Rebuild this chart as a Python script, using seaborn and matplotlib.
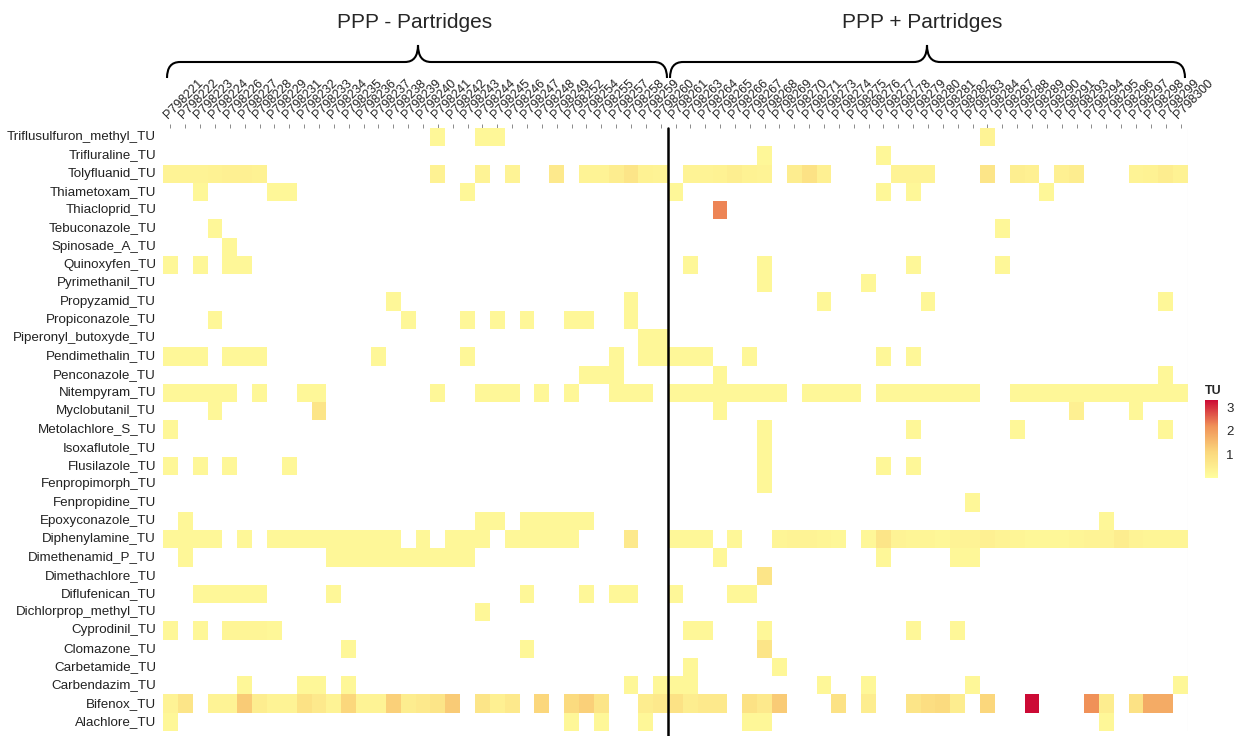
import numpy as np
import pandas as pd
import matplotlib
matplotlib.use('Agg')
import matplotlib.pyplot as plt
import seaborn as sns
from matplotlib.colors import LinearSegmentedColormap
from matplotlib.path import Path
from matplotlib.patches import PathPatch

sns.set_style('white')
plt.rcParams['font.family'] = ['Liberation Sans', 'DejaVu Sans']

# sample ids (P798xxx), split by treatment group
samples_minus = [221, 222, 223, 224, 226, 227, 228, 229, 231, 232, 233, 234, 235, 236, 237,
                 238, 239, 240, 241, 242, 243, 244, 245, 246, 247, 248, 249, 252, 254, 255,
                 257, 258, 259, 260]
samples_plus = [261, 263, 264, 265, 266, 267, 268, 269, 270, 271, 273, 274, 275, 276, 277,
                278, 279, 280, 281, 282, 283, 284, 287, 288, 289, 290, 291, 293, 294, 295,
                296, 297, 298, 299, 300]

compounds = ['Triflusulfuron_methyl_TU', 'Trifluraline_TU', 'Tolyfluanid_TU', 'Thiametoxam_TU',
             'Thiacloprid_TU', 'Tebuconazole_TU', 'Spinosade_A_TU', 'Quinoxyfen_TU',
             'Pyrimethanil_TU', 'Propyzamid_TU', 'Propiconazole_TU', 'Piperonyl_butoxyde_TU',
             'Pendimethalin_TU', 'Penconazole_TU', 'Nitempyram_TU', 'Myclobutanil_TU',
             'Metolachlore_S_TU', 'Isoxaflutole_TU', 'Flusilazole_TU', 'Fenpropimorph_TU',
             'Fenpropidine_TU', 'Epoxyconazole_TU', 'Diphenylamine_TU', 'Dimethenamid_P_TU',
             'Dimethachlore_TU', 'Diflufenican_TU', 'Dichlorprop_methyl_TU', 'Cyprodinil_TU',
             'Clomazone_TU', 'Carbetamide_TU', 'Carbendazim_TU', 'Bifenox_TU', 'Alachlore_TU']

# toxic units detected (sample -> TU); blank cells are non-detects
tu_values = {
    'Triflusulfuron_methyl_TU': {241: .2, 244: .2, 245: .2, 284: .3},
    'Trifluraline_TU': {268: .2, 277: .2},
    'Tolyfluanid_TU': {221: .3, 222: .3, 223: .3, 224: .35, 226: .4, 227: .4, 228: .35, 241: .35,
                       244: .3, 246: .3, 249: .6, 254: .3, 255: .3, 257: .5, 258: .7, 259: .35,
                       260: .3, 263: .3, 264: .3, 265: .35, 266: .45, 267: .35, 268: .3,
                       270: .5, 271: .8, 273: .4, 278: .3, 279: .3, 280: .3, 284: .7, 288: .45,
                       289: .4, 291: .4, 293: .5, 297: .3, 298: .35, 299: .5, 300: .35},
    'Thiametoxam_TU': {223: .2, 229: .2, 231: .2, 243: .2, 261: .2, 277: .2, 279: .2, 290: .2},
    'Thiacloprid_TU': {265: 2.3},
    'Tebuconazole_TU': {224: .2, 287: .2},
    'Spinosade_A_TU': {226: .2},
    'Quinoxyfen_TU': {221: .2, 223: .2, 226: .2, 227: .2, 263: .2, 268: .2, 279: .2, 287: .2},
    'Pyrimethanil_TU': {268: .2, 276: .2},
    'Propyzamid_TU': {238: .2, 258: .2, 273: .2, 280: .2, 299: .2},
    'Propiconazole_TU': {224: .2, 239: .2, 243: .2, 245: .2, 247: .2, 252: .2, 254: .2, 258: .2},
    'Piperonyl_butoxyde_TU': {259: .2, 260: .2},
    'Pendimethalin_TU': {221: .2, 222: .2, 223: .2, 226: .2, 227: .2, 228: .2, 237: .2, 243: .2,
                         257: .2, 259: .2, 260: .2, 261: .2, 263: .2, 264: .2, 267: .2,
                         277: .2, 279: .2},
    'Penconazole_TU': {254: .2, 255: .2, 257: .2, 265: .2, 299: .2},
    'Nitempyram_TU': {221: .2, 222: .2, 223: .2, 224: .2, 226: .2, 228: .2, 232: .2, 233: .2,
                      241: .2, 244: .2, 245: .2, 246: .2, 248: .2, 252: .2, 257: .2, 258: .2,
                      259: .2, 261: .2, 263: .2, 264: .2, 265: .2, 266: .2, 267: .2, 268: .2,
                      269: .2, 271: .2, 273: .2, 274: .2, 275: .2, 277: .2, 278: .2, 279: .2,
                      280: .2, 281: .2, 282: .2, 283: .2, 288: .2, 289: .2, 290: .2, 291: .2,
                      293: .2, 294: .2, 295: .2, 296: .2, 297: .2, 298: .2, 299: .2, 300: .2},
    'Myclobutanil_TU': {224: .2, 233: .7, 265: .2, 293: .4, 297: .2},
    'Metolachlore_S_TU': {221: .2, 268: .2, 279: .2, 288: .2, 299: .2},
    'Isoxaflutole_TU': {268: .2},
    'Flusilazole_TU': {221: .2, 223: .2, 226: .2, 231: .2, 268: .2, 277: .2, 279: .2},
    'Fenpropimorph_TU': {268: .2},
    'Fenpropidine_TU': {283: .2},
    'Epoxyconazole_TU': {222: .2, 244: .2, 245: .2, 247: .2, 248: .2, 249: .2, 252: .2, 254: .2,
                         295: .2},
    'Diphenylamine_TU': {221: .2, 222: .2, 223: .2, 224: .2, 227: .2, 229: .2, 231: .2, 232: .2,
                         233: .2, 234: .2, 235: .2, 236: .2, 237: .2, 238: .2, 240: .2, 242: .2,
                         243: .2, 244: .2, 246: .2, 247: .2, 248: .2, 249: .2, 252: .2, 258: .6,
                         261: .2, 263: .2, 264: .2, 266: .2, 269: .25, 270: .3, 271: .3, 273: .25,
                         274: .2, 276: .2, 277: .7, 278: .3, 279: .25, 280: .25, 281: .2,
                         282: .3, 283: .3, 284: .4, 287: .3, 288: .25, 289: .2, 290: .2, 291: .2,
                         293: .25, 294: .3, 295: .3, 296: .5, 297: .3, 298: .25, 299: .25,
                         300: .25},
    'Dimethenamid_P_TU': {222: .2, 234: .2, 235: .2, 236: .2, 237: .2, 238: .2, 239: .2, 240: .2,
                          241: .2, 242: .2, 243: .2, 265: .2, 277: .2, 282: .2, 283: .2},
    'Dimethachlore_TU': {268: .7},
    'Diflufenican_TU': {223: .2, 224: .2, 226: .2, 227: .2, 228: .2, 234: .2, 247: .2, 254: .2,
                        257: .2, 258: .2, 261: .2, 266: .2, 267: .2},
    'Dichlorprop_methyl_TU': {244: .2},
    'Cyprodinil_TU': {221: .2, 223: .2, 226: .25, 227: .25, 228: .25, 229: .2, 263: .2, 264: .2,
                      268: .2, 279: .2, 282: .2},
    'Clomazone_TU': {235: .2, 247: .2, 268: .7},
    'Carbetamide_TU': {263: .2, 269: .2},
    'Carbendazim_TU': {227: .2, 232: .2, 233: .2, 235: .2, 258: .2, 260: .2, 261: .2, 263: .2,
                       273: .2, 276: .2, 283: .2, 300: .2},
    'Bifenox_TU': {221: .3, 222: .7, 224: .3, 226: .3, 227: 1.3, 228: .5, 229: .3, 231: .3,
                   232: .8, 233: .6, 234: .3, 235: 1.1, 236: .3, 237: .3, 238: 1.2, 239: .5,
                   240: .6, 241: .7, 242: 1.3, 244: .7, 245: .4, 246: .6, 248: 1.1, 252: 1.0,
                   254: 1.2, 255: .7, 259: .5, 260: .6, 261: .8, 263: .5, 264: .6, 265: .6,
                   267: .8, 268: .6, 269: 1.3, 274: .8, 276: .5, 279: .7, 280: .9, 281: 1.0,
                   282: .5, 284: 1.1, 289: 3.3, 294: 2.2, 295: .5, 297: .8, 298: 1.8, 299: 1.8},
    'Alachlore_TU': {221: .2, 252: .2, 255: .2, 259: .2, 267: .2, 268: .2, 295: .2},
}

samples = samples_minus + samples_plus
col_labels = ['P798%d' % s for s in samples]
mat = pd.DataFrame(np.nan, index=compounds, columns=col_labels)
for comp, vals in tu_values.items():
    for s, v in vals.items():
        mat.loc[comp, 'P798%d' % s] = v

W, H = 1246, 736
fig = plt.figure(figsize=(W / 100, H / 100), dpi=100)


def fx(x):
    return x / W


def fy(y):
    return 1 - y / H


ax = fig.add_axes([fx(163), fy(731), fx(1188) - fx(163), fy(128) - fy(731)])
cax = fig.add_axes([fx(1205), fy(478), fx(13), fy(400) - fy(478)])

cmap = LinearSegmentedColormap.from_list('tu', ['#FFFE9E', '#FBD77C', '#F09158', '#CC0A35'])
sns.heatmap(mat, ax=ax, cmap=cmap, vmin=0, vmax=3.3, cbar_ax=cax,
            cbar_kws={'ticks': [1, 2, 3]}, linewidths=0)

ax.xaxis.tick_top()
ax.set_xlabel('')
ax.set_ylabel('')
ax.set_xticklabels(col_labels, rotation=45, ha='left', rotation_mode='anchor',
                   fontsize=9, color='#222222')
ax.set_yticklabels(compounds, rotation=0, fontsize=9.6, color='#222222')
ax.tick_params(axis='both', length=3, width=0.6, color='#777777', pad=2)
ax.axvline(len(samples_minus), color='black', lw=1.8, ymin=-0.01, clip_on=False)
ax.axvline(len(samples), color='#e6e6e6', lw=0.8)

cax.set_title('TU', fontsize=9, fontweight='bold', loc='left', pad=4)
cax.tick_params(labelsize=9.5, length=0, pad=6)
for sp in cax.spines.values():
    sp.set_visible(False)


def brace(x0, x1, xm, y_end, y_mid, y_tip, r=13):
    verts = [(x0, y_end), (x0, y_mid), (x0 + r, y_mid),
             (xm - r, y_mid), (xm, y_mid), (xm, y_tip),
             (xm, y_mid), (xm + r, y_mid),
             (x1 - r, y_mid), (x1, y_mid), (x1, y_end)]
    codes = [Path.MOVETO, Path.CURVE3, Path.CURVE3,
             Path.LINETO, Path.CURVE3, Path.CURVE3,
             Path.CURVE3, Path.CURVE3,
             Path.LINETO, Path.CURVE3, Path.CURVE3]
    verts = [(fx(a), fy(b)) for a, b in verts]
    fig.add_artist(PathPatch(Path(verts, codes), fc='none', ec='black', lw=1.5,
                             transform=fig.transFigure))


brace(167, 667, 418, 78, 62, 45)
brace(670, 1185, 927, 78, 62, 45)
fig.text(fx(415), fy(22), 'PPP - Partridges', ha='center', va='center', fontsize=15)
fig.text(fx(922), fy(22), 'PPP + Partridges', ha='center', va='center', fontsize=15)

fig.savefig('out.png', dpi=100)
